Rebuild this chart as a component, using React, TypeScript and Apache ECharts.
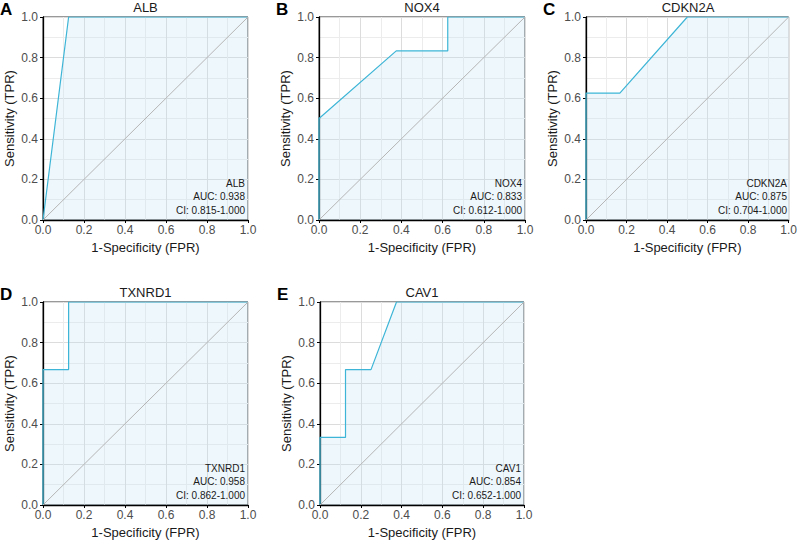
import React, { useEffect, useRef } from "react";
import * as echarts from "echarts";

const genes = ["ALB", "NOX4", "CDKN2A", "TXNRD1", "CAV1"];
const panelLetters = ["A", "B", "C", "D", "E"];
const fprALB = [0, 0.125, 1];
const tprALB = [0, 1, 1];
const fprNOX4 = [0, 0, 0.375, 0.625, 0.625, 1];
const tprNOX4 = [0, 0.5, 0.833, 0.833, 1, 1];
const fprCDKN2A = [0, 0, 0.167, 0.5, 1];
const tprCDKN2A = [0, 0.625, 0.625, 1, 1];
const fprTXNRD1 = [0, 0, 0.125, 0.125, 1];
const tprTXNRD1 = [0, 0.667, 0.667, 1, 1];
const fprCAV1 = [0, 0, 0.125, 0.125, 0.25, 0.375, 1];
const tprCAV1 = [0, 0.333, 0.333, 0.667, 0.667, 1, 1];
const aucs = ["0.938", "0.833", "0.875", "0.958", "0.854"];
const cis = ["0.815-1.000", "0.612-1.000", "0.704-1.000", "0.862-1.000", "0.652-1.000"];

const fprs = [fprALB, fprNOX4, fprCDKN2A, fprTXNRD1, fprCAV1];
const tprs = [tprALB, tprNOX4, tprCDKN2A, tprTXNRD1, tprCAV1];

const layouts = [
  { left: 43, top: 17, width: 205, height: 203 },
  { left: 319, top: 17, width: 206, height: 203 },
  { left: 586, top: 17, width: 204, height: 203 },
  { left: 43, top: 302, width: 205, height: 203 },
  { left: 320, top: 302, width: 204, height: 203 },
];

const FONT = "Liberation Sans, Arial, sans-serif";

export default function App() {
  const ref = useRef<HTMLDivElement>(null);
  useEffect(() => {
    document.body.style.margin = "0";
    const chart = echarts.init(ref.current!, null, { renderer: "svg" });
    const grids: any[] = [];
    const xAxes: any[] = [];
    const yAxes: any[] = [];
    const series: any[] = [];
    const graphics: any[] = [];
    const axisCommon = (name: string, nameGap: number, isY: boolean) => ({
      type: "value",
      min: 0,
      max: 1,
      interval: 0.2,
      name,
      nameLocation: "middle",
      nameGap,
      nameTextStyle: { color: "#1a1a1a", fontSize: 13, fontFamily: FONT },
      axisLine: { show: true, onZero: false, lineStyle: { color: "#000", width: 1.3 } },
      axisTick: { show: true, length: 3, lineStyle: { color: "#000", width: 1 } },
      axisLabel: {
        color: "#4d4d4d",
        fontSize: 12,
        fontFamily: FONT,
        margin: isY ? 5 : 4,
        formatter: (v: number) => v.toFixed(1),
      },
      splitLine: { show: true, lineStyle: { color: "#dcdcdc", width: 1 } },
      minorTick: { show: false, splitNumber: 2 },
      minorSplitLine: { show: true, lineStyle: { color: "#ececec", width: 1 } },
    });
    layouts.forEach((L, i) => {
      grids.push({
        left: L.left,
        top: L.top,
        width: L.width,
        height: L.height,
        show: true,
        backgroundColor: "#fff",
        borderColor: "#333",
        borderWidth: 1,
      });
      xAxes.push({ ...axisCommon("1-Specificity (FPR)", 21, false), gridIndex: i });
      yAxes.push({ ...axisCommon("Sensitivity (TPR)", 27, true), gridIndex: i });
      const data = fprs[i].map((x, k) => [x, tprs[i][k]]);
      series.push({
        type: "line",
        xAxisIndex: i,
        yAxisIndex: i,
        data,
        symbol: "none",
        lineStyle: { color: "#3db5d6", width: 1.2 },
        areaStyle: { color: "rgba(190,225,245,0.38)", origin: "start" },
        z: 3,
      });
      series.push({
        type: "line",
        xAxisIndex: i,
        yAxisIndex: i,
        data: [
          [0, 0],
          [1, 1],
        ],
        symbol: "none",
        lineStyle: { color: "#b5b5b5", width: 1 },
        z: 4,
      });
      graphics.push({
        type: "text",
        x: L.left + L.width / 2,
        y: L.top - 10,
        style: {
          text: genes[i],
          fontSize: 13,
          fontFamily: FONT,
          fill: "#1a1a1a",
          textAlign: "center",
          textVerticalAlign: "middle",
        },
      });
      graphics.push({
        type: "text",
        x: L.left - 43,
        y: L.top - 16,
        style: {
          text: panelLetters[i],
          fontSize: 17,
          fontWeight: "bold",
          fontFamily: FONT,
          fill: "#000",
          textAlign: "left",
          textVerticalAlign: "top",
        },
      });
      const lines = [genes[i], "AUC: " + aucs[i], "CI: " + cis[i]];
      lines.forEach((t, k) => {
        graphics.push({
          type: "text",
          x: L.left + L.width - 3,
          y: L.top + L.height - 37 + k * 13.5,
          z: 10,
          style: {
            text: t,
            fontSize: 10,
            fontFamily: FONT,
            fill: "#1a1a1a",
            textAlign: "right",
            textVerticalAlign: "middle",
          },
        });
      });
    });
    chart.setOption({
      animation: false,
      backgroundColor: "#fff",
      grid: grids,
      xAxis: xAxes,
      yAxis: yAxes,
      series,
      graphic: graphics,
    });
    return () => chart.dispose();
  }, []);
  return <div ref={ref} style={{ width: 800, height: 542 }} />;
}
